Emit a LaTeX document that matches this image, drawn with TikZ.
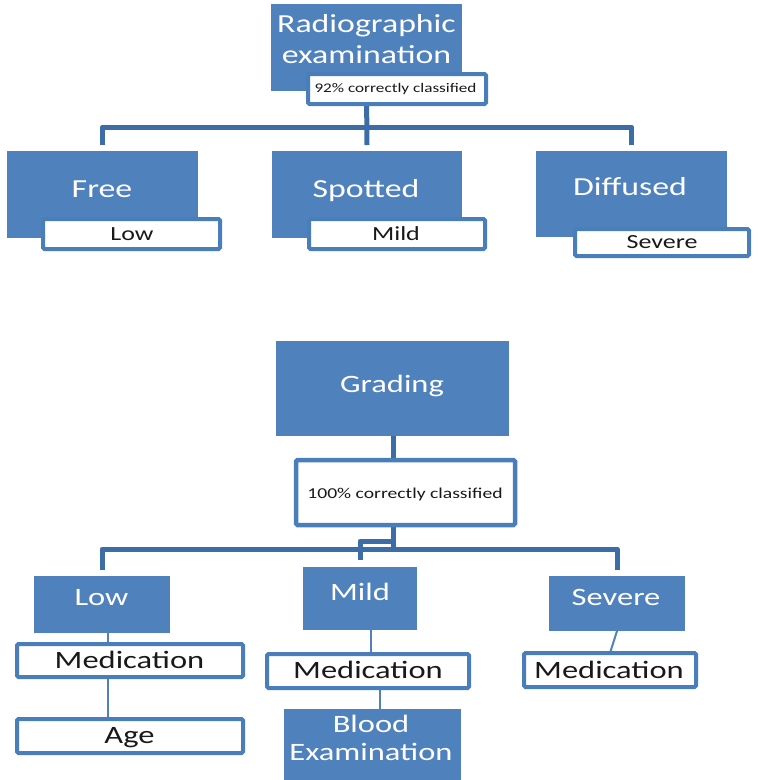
\documentclass[tikz,border=0pt]{standalone}
\usepackage{fontspec}
\setmainfont{Carlito}[FakeStretch=1.3]
\usetikzlibrary{fit,backgrounds}
\definecolor{boxblue}{HTML}{4F81BD}
\definecolor{edgeblue}{HTML}{4A7EBB}
\definecolor{trunkblue}{HTML}{3D6DA6}
\tikzset{
  bluebox/.style={fill=boxblue, draw=none, inner sep=0pt, outer sep=0pt},
  tagbox/.style={fill=white, draw=edgeblue, line width=4pt, rounded corners=1.5pt, inner sep=-2pt, outer sep=0pt},
  onblue/.style={text=white, inner sep=0pt, anchor=base, align=center},
  onwhite/.style={text=black!90, inner sep=0pt, anchor=base},
  trunk/.style={draw=trunkblue, line width=5pt, line join=round},
  twig/.style={draw=boxblue, line width=2pt},
  fbig/.style={font=\fontsize{26}{31}\selectfont},
  fmid/.style={font=\fontsize{25}{28}\selectfont},
  fsmall/.style={font=\fontsize{20}{24}\selectfont},
}
\begin{document}
\begin{tikzpicture}[x=1pt,y=-1pt]
\useasboundingbox (0,0) rectangle (758,780);

% ---- radiographic examination tree ----
\node[bluebox, fit={(271,4) (462,91)}] (radio) {};
% a multi-line node sits on the baseline of its last line
\node[onblue, fbig] (radio-t) at (366.5,63) {Radiographic\\examination};
\node[tagbox, fit={(306,72) (488,106)}] (rlab) {};
\node[onwhite, font=\fontsize{13.2}{16}\selectfont] (rlab-t) at (395.5,92) {92\% correctly classified};

\node[bluebox, fit={(7,151) (198,238)}] (free) {};
\node[onblue, fbig] (free-t) at (102,197) {Free};
\node[tagbox, fit={(41,217) (222,251)}] (lowT) {};
\node[onwhite, fsmall] (lowT-t) at (132,240) {Low};

\node[bluebox, fit={(272,151) (462,238)}] (spot) {};
\node[onblue, fbig] (spot-t) at (366,197) {Spotted};
\node[tagbox, fit={(307,217) (487,251)}] (mildT) {};
\node[onwhite, fsmall] (mildT-t) at (396,240) {Mild};

\node[bluebox, fit={(536,151) (727,237)}] (diff) {};
\node[onblue, fbig] (diff-t) at (630,195) {Diffused};
\node[tagbox, fit={(573,227) (751,258)}] (sevT) {};
\node[onwhite, fsmall] (sevT-t) at (662,248) {Severe};

% ---- grading tree ----
\node[bluebox, fit={(276,341) (509,436)}] (grad) {};
\node[onblue, fmid] (grad-t) at (392,392) {Grading};
\node[tagbox, line width=4.5pt, fit={(294,458) (517,527)}] (glab) {};
\node[onwhite, font=\fontsize{15.1}{18}\selectfont] (glab-t) at (405,498) {100\% correctly classified};

\node[bluebox, fit={(34,576) (170,633)}] (lowB) {};
\node[onblue, fmid] (lowB-t) at (101.5,605) {Low};
\node[tagbox, fit={(15,642) (245,679)}] (medL) {};
\node[onwhite, fmid] (medL-t) at (129.5,668) {Medication};
\node[tagbox, fit={(15,717) (245,755)}] (age) {};
\node[onwhite, fmid] (age-t) at (129.5,743) {Age};

\node[bluebox, fit={(303,567) (417,630)}] (mild) {};
\node[onblue, fmid] (mild-t) at (360,600) {Mild};
\node[tagbox, fit={(265,652) (471,690)}] (medM) {};
\node[onwhite, fmid] (medM-t) at (368,678) {Medication};
\node[bluebox, fit={(284,709) (461,785)}] (blood) {};
\node[onblue, fmid] (blood-t) at (371,760) {Blood\\Examination};

\node[bluebox, fit={(549,576) (685,631)}] (sev) {};
\node[onblue, fmid] (sev-t) at (616,605) {Severe};
\node[tagbox, fit={(522,651) (698,689)}] (medS) {};
\node[onwhite, fmid] (medS-t) at (609,678) {Medication};

% ---- connectors, kept behind the boxes ----
\begin{scope}[on background layer]
  \coordinate (tbar) at (367,127);
  \draw[trunk] (radio.south) -- ([yshift=6pt]spot.north);
  \draw[trunk] ([yshift=6pt]free.north) -- (free.north |- tbar)
               -- (diff.north |- tbar) -- ([yshift=6pt]diff.north);

  \coordinate (bbar) at (393,549);
  \coordinate (mstep) at (393,541);
  \draw[trunk] (grad.south -| bbar) -- (glab.north -| bbar);
  \draw[trunk] (glab.south -| bbar) -- (bbar);
  \draw[trunk] ([yshift=6pt]lowB.north) -- (lowB.north |- bbar)
               -- (sev.north |- bbar) -- ([yshift=6pt]sev.north);
  \draw[trunk] (mstep) -| ([yshift=7pt]mild.north);

  \draw[twig] ([xshift=6pt]lowB.south) -- ([xshift=6pt]lowB.south |- medL.north);
  \draw[twig] ([xshift=6pt]lowB.south |- medL.south) -- ([xshift=6pt]lowB.south |- age.north);
  \draw[twig] ([xshift=11pt]mild.south) -- ([xshift=11pt]mild.south |- medM.north);
  \draw[twig] ([xshift=12pt]medM.south) -- ([xshift=12pt]medM.south |- blood.north);
  \draw[twig] (sev.south) -- (medS.north);
\end{scope}
\end{tikzpicture}
\end{document}
